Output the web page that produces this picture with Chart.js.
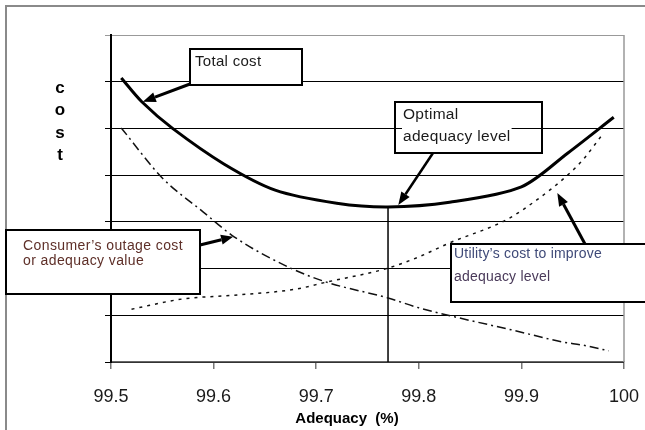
<!DOCTYPE html>
<html>
<head>
<meta charset="utf-8">
<script src="https://cdn.jsdelivr.net/npm/chart.js@4"></script>
<style>
  html, body { margin: 0; padding: 0; background: #fff; }
  #wrap { width: 645px; height: 430px; }
</style>
</head>
<body>
<div id="wrap"><canvas id="cost-chart" width="645" height="430"></canvas></div>
<script>
// Values (x = adequacy %, y = relative cost)
const totalX = [99.51, 99.53, 99.56, 99.61, 99.66, 99.72, 99.77, 99.83, 99.90, 99.945, 99.99];
const totalY = [6.08, 5.57, 5.00, 4.24, 3.68, 3.40, 3.32, 3.42, 3.75, 4.47, 5.24];

const consumerX = [99.51, 99.55, 99.59, 99.62, 99.675, 99.71, 99.77, 99.80, 99.84, 99.89, 99.94, 99.96, 99.985];
const consumerY = [5.01, 3.94, 3.21, 2.68, 2.01, 1.71, 1.37, 1.16, 0.94, 0.69, 0.43, 0.36, 0.24];

const utilityX = [99.52, 99.57, 99.62, 99.68, 99.71, 99.77, 99.80, 99.83, 99.885, 99.915, 99.945, 99.96, 99.98];
const utilityY = [1.13, 1.35, 1.43, 1.56, 1.71, 2.01, 2.25, 2.55, 3.04, 3.47, 4.00, 4.33, 4.90];

const optimalX = 99.77;
const optimalY = 3.32;

const xTicks = [99.5, 99.6, 99.7, 99.8, 99.9, 100];
const xTickLabels = ['99.5', '99.6', '99.7', '99.8', '99.9', '100'];

function toPoints(xs, ys) {
    return xs.map((x, i) => ({ x: x, y: ys[i] }));
}

const FONT = '"Liberation Sans", Arial, sans-serif';

function drawArrow(ctx, x1, y1, x2, y2, lw, headLen, headW) {
    const ang = Math.atan2(y2 - y1, x2 - x1);
    const bx = x2 - headLen * Math.cos(ang);
    const by = y2 - headLen * Math.sin(ang);
    ctx.save();
    ctx.strokeStyle = '#000';
    ctx.fillStyle = '#000';
    ctx.lineWidth = lw;
    ctx.beginPath();
    ctx.moveTo(x1, y1);
    ctx.lineTo(bx, by);
    ctx.stroke();
    ctx.beginPath();
    ctx.moveTo(x2, y2);
    ctx.lineTo(bx + headW / 2 * Math.sin(ang), by - headW / 2 * Math.cos(ang));
    ctx.lineTo(bx - headW / 2 * Math.sin(ang), by + headW / 2 * Math.cos(ang));
    ctx.closePath();
    ctx.fill();
    ctx.restore();
}

function box(ctx, x, y, w, h, fill) {
    ctx.save();
    if (fill) {
        ctx.fillStyle = '#fff';
        ctx.fillRect(x, y, w, h);
    }
    ctx.strokeStyle = '#000';
    ctx.lineWidth = 2;
    ctx.strokeRect(x, y, w, h);
    ctx.restore();
}

function label(ctx, text, x, y, size, color, bg, spacing) {
    ctx.save();
    ctx.font = size + 'px ' + FONT;
    ctx.letterSpacing = (spacing || 0) + 'px';
    ctx.textBaseline = 'middle';
    ctx.textAlign = 'left';
    if (bg) {
        const w = ctx.measureText(text).width;
        ctx.fillStyle = '#fff';
        ctx.fillRect(x - 1, y - size / 2 - 2, w + 2, size + 4);
    }
    ctx.fillStyle = color;
    ctx.fillText(text, x, y);
    ctx.restore();
}

const decorPlugin = {
    id: 'decor',
    beforeDraw(chart) {
        const ctx = chart.ctx;
        ctx.save();
        ctx.fillStyle = '#fff';
        ctx.fillRect(0, 0, chart.width, chart.height);
        // outer frame
        ctx.strokeStyle = '#8a8a8a';
        ctx.lineWidth = 2;
        ctx.beginPath();
        ctx.moveTo(6, chart.height + 2);
        ctx.lineTo(6, 6);
        ctx.lineTo(chart.width + 2, 6);
        ctx.stroke();
        ctx.restore();
    },
    afterDraw(chart) {
        const ctx = chart.ctx;
        const xs = chart.scales.x, ys = chart.scales.y;
        const a = chart.chartArea;
        const px = v => xs.getPixelForValue(v);
        const py = v => ys.getPixelForValue(v);

        // right border of the plot
        ctx.save();
        ctx.strokeStyle = '#999';
        ctx.lineWidth = 1.5;
        ctx.beginPath();
        ctx.moveTo(a.right, a.top);
        ctx.lineTo(a.right, a.bottom);
        ctx.stroke();
        ctx.restore();

        // axis titles
        ctx.save();
        ctx.fillStyle = '#000';
        ctx.font = 'bold 17px ' + FONT;
        ctx.textAlign = 'center';
        ctx.textBaseline = 'middle';
        ['c', 'o', 's', 't'].forEach((ch, i) => ctx.fillText(ch, 60, 88 + i * 22.5));
        ctx.font = 'bold 15px ' + FONT;
        ctx.fillText('Adequacy  (%)', 347, 419);
        ctx.restore();

        // Total cost
        box(ctx, 190, 49, 112, 36, true);
        label(ctx, 'Total cost', 195, 62, 15, '#1a1a1a', false, 0.3);
        drawArrow(ctx, 190, 84, px(99.531), py(5.57), 3, 13, 10);

        // Optimal adequacy level
        box(ctx, 395, 102, 147, 51, false);
        label(ctx, 'Optimal', 403, 115, 15.5, '#1a1a1a', true, 0.3);
        label(ctx, 'adequacy level', 403, 137, 15.5, '#1a1a1a', true, 0.3);
        drawArrow(ctx, 433, 153, px(optimalX + 0.01), py(optimalY + 0.04), 2.5, 13, 10);

        // Consumer's outage cost
        box(ctx, 6, 230, 194, 64, true);
        label(ctx, 'Consumer\u2019s outage cost', 23, 246, 14, '#5e2f28', false, 0.4);
        label(ctx, 'or adequacy value', 23, 261, 14, '#5e2f28', false, 0.4);
        drawArrow(ctx, 200, 245, px(99.619), py(2.68), 3, 12, 10);

        // Utility's cost to improve
        box(ctx, 451, 244, 200, 58, true);
        label(ctx, 'Utility\u2019s cost to improve', 454, 254, 14, '#3f4a78', false, 0.2);
        label(ctx, 'adequacy level', 454, 277, 14, '#4a3a5a', false, 0.2);
        drawArrow(ctx, 585, 244, px(99.935), py(3.62), 3, 13, 10);
    }
};

new Chart(document.getElementById('cost-chart'), {
    type: 'line',
    data: {
        datasets: [
            {
                label: 'Total cost',
                data: toPoints(totalX, totalY),
                borderColor: '#000',
                borderWidth: 3,
                tension: 0.3,
                pointRadius: 0
            },
            {
                label: "Consumer's outage cost",
                data: toPoints(consumerX, consumerY),
                borderColor: '#111',
                borderWidth: 1.5,
                borderDash: [9, 4, 2, 4],
                cubicInterpolationMode: 'monotone',
                pointRadius: 0
            },
            {
                label: "Utility's cost",
                data: toPoints(utilityX, utilityY),
                borderColor: '#111',
                borderWidth: 1.5,
                borderDash: [3, 5],
                cubicInterpolationMode: 'monotone',
                pointRadius: 0
            },
            {
                label: 'Optimal',
                data: [{ x: optimalX, y: 0 }, { x: optimalX, y: optimalY }],
                borderColor: '#000',
                borderWidth: 1.5,
                pointRadius: 0
            }
        ]
    },
    options: {
        responsive: false,
        animation: false,
        events: [],
        layout: {
            padding: { left: 105, top: 35, right: 21, bottom: 0 }
        },
        plugins: {
            legend: { display: false },
            tooltip: { enabled: false }
        },
        scales: {
            x: {
                type: 'linear',
                min: 99.5,
                max: 100,
                afterBuildTicks: s => { s.ticks = xTicks.map(v => ({ value: v })); },
                afterFit: s => {
                    s.height = 68;
                    s.paddingLeft = 0;
                    s.paddingRight = 0;
                },
                ticks: {
                    callback: (v, i) => xTickLabels[i],
                    color: '#1a1a1a',
                    font: { family: FONT, size: 18 },
                    padding: 17,
                    maxRotation: 0
                },
                grid: {
                    drawOnChartArea: false,
                    tickLength: 7,
                    color: '#777',
                    lineWidth: 1.5
                },
                border: { color: '#666', width: 1.5 }
            },
            y: {
                min: 0,
                max: 7,
                afterFit: s => { s.width = 6; },
                ticks: { stepSize: 1, display: false },
                grid: {
                    tickLength: 6,
                    color: c => c.tick && c.tick.value === 7 ? '#999' : '#000',
                    lineWidth: 1
                },
                border: { color: '#000', width: 2 }
            }
        }
    },
    plugins: [decorPlugin]
});
</script>
</body>
</html>
